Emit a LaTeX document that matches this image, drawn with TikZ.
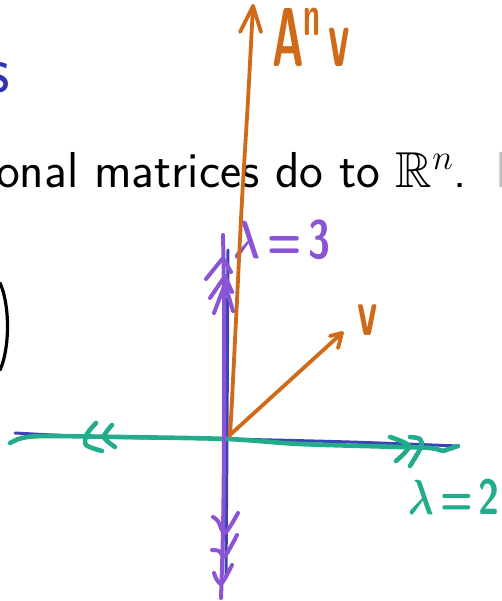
\RequirePackage{fix-cm}
\documentclass[tikz,border=0pt]{standalone}
\usepackage{amssymb}
\usepackage{bm}
\usetikzlibrary{calc}
\definecolor{penorange}{RGB}{207,106,24}
\definecolor{penpurple}{RGB}{138,84,212}
\definecolor{axisblue}{RGB}{62,66,182}
\definecolor{pengreen}{RGB}{34,172,140}
\definecolor{titleblue}{RGB}{51,51,178}
\tikzset{
  pen/.style={line cap=round, line join=round},
  orangepen/.style={pen, draw=penorange, line width=3.8},
  purplepen/.style={pen, draw=penpurple, line width=4},
  greenpen/.style={pen, draw=pengreen, line width=4.6},
  bluepen/.style={pen, draw=axisblue, line width=3},
  handlabel/.style={inner sep=0, font=\sffamily\bfseries},
}
\begin{document}
\begin{tikzpicture}[x=1pt,y=-1pt]
\useasboundingbox (0,0) rectangle (501,601);
\clip (0,0) rectangle (501,601);
% slide text
\node[inner sep=0, anchor=base east, text=titleblue, font=\sffamily\fontsize{68}{70}\selectfont] (title) at (10.5,93) {s};
\node[inner sep=0, anchor=base east, font=\sffamily\fontsize{50.5}{52}\selectfont] (body) at (467,188) {onal matrices do to $\mathbb{R}^n$.};
\node[inner sep=0, anchor=base west, text=black!25, font=\sffamily\fontsize{50.5}{52}\selectfont] (nextword) at (495,188) {I};
\draw[line width=3.2, line cap=round] (0,283) .. controls (10,305) and (10,348) .. (0,370);
% blue axes
\coordinate (O) at (227,439);
\coordinate (xl) at (15,433);
\coordinate (xr) at (458,446);
\coordinate (yt) at (228,250);
\coordinate (yb) at (226,578);
\draw[bluepen] plot[smooth] coordinates {(xl) (100,437) (O) (350,442) (xr)};
\draw[bluepen] (yt) -- (O) -- (yb);
% green eigen-line lambda = 2
\draw[greenpen] plot[smooth] coordinates {(10,443) (22,438) (45,436) (120,437) (O) (300,444) (400,447) (430,448) (443,451)} -- (xr);
\draw[greenpen] plot[smooth] coordinates {(96,423) (87,434) (86,445) (102,451)};
\draw[greenpen] plot[smooth] coordinates {(112,425) (104,437) (115,447)};
\draw[greenpen] plot[smooth] coordinates {(390,437) (409,446) (396,461)};
\draw[greenpen] plot[smooth] coordinates {(410,437) (420,439) (421,447) (410,466)};
\node[handlabel, text=pengreen] (lamtwo) at (454,497) {\scalebox{1}[1.3]{\fontsize{38}{38}\selectfont$\bm{\lambda}$\,=\,2}};
% purple eigen-line lambda = 3
\draw[purplepen] plot[smooth] coordinates {(223,235) (224,300) (224,440) (223,530) (221,598)};
\draw[purplepen] (206,279) -- (223,258) -- (231,272);
\draw[purplepen] (210,298) -- (225,276) -- (232,292);
\draw[purplepen] (214,313) -- (225,284) -- (233,311);
\draw[purplepen] plot[smooth] coordinates {(213,517) (218,521) (225,533) (238,513)};
\draw[purplepen] plot[smooth] coordinates {(212,550) (219,551) (225,556) (237,535)};
\draw[purplepen] plot[smooth] coordinates {(214,573) (217,580) (222,583) (232,565)};
\node[handlabel, text=penpurple] (lamthree) at (282,240) {\scalebox{1}[1.35]{\fontsize{40}{40}\selectfont$\bm{\lambda}$\,=\,3}};
% orange vectors
\coordinate (Av) at (253,6);
\draw[orangepen] plot[smooth] coordinates {(230,436) (232,400) (237,300) (242,200) (248,100) (Av)};
\draw[orangepen] (240,32) -- (Av) -- (261,32);
\node[handlabel, text=penorange] (Anv) at (311,37) {\scalebox{0.8}[1.55]{\fontsize{54}{54}\selectfont A\textsuperscript{n}\,v}};
\coordinate (vtip) at (342,333);
\draw[orangepen] (231,434) -- (vtip);
\draw[orangepen] (330,336) -- (vtip) -- (338,348);
\node[handlabel, text=penorange] (vlab) at (368,320) {\scalebox{0.85}[1.4]{\fontsize{48}{48}\selectfont v}};
\end{tikzpicture}
\end{document}
